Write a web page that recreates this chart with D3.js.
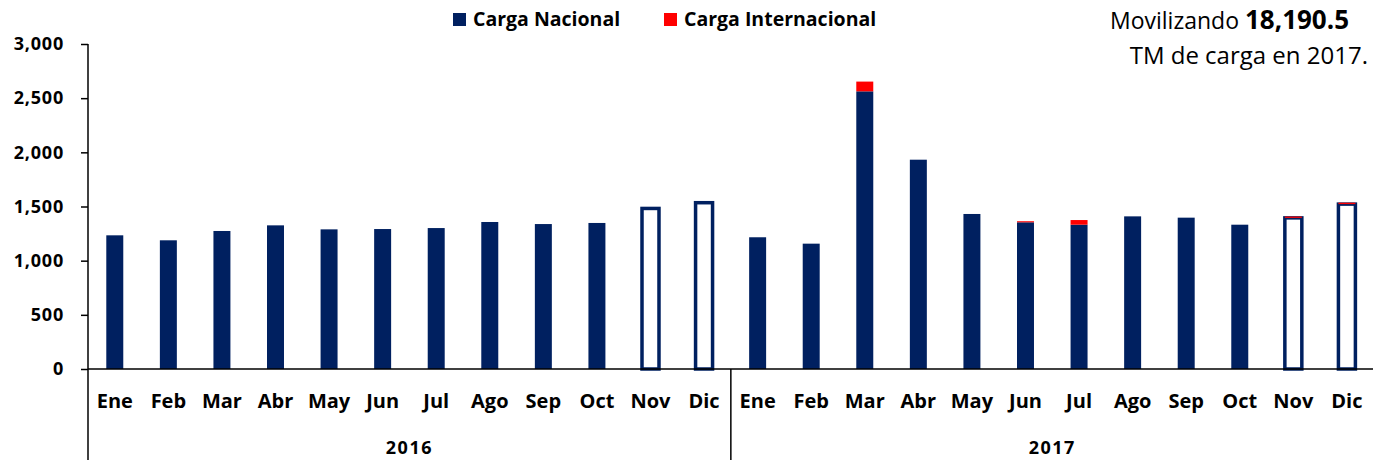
<!DOCTYPE html>
<html>
<head>
<meta charset="utf-8">
<script src="https://cdn.jsdelivr.net/npm/d3@7"></script>
<style>
  html, body { margin: 0; padding: 0; background: #fff; overflow: hidden; }
  svg { display: block; font-family: "Open Sans", Lato, sans-serif; }
</style>
</head>
<body>
<svg id="chart" width="1373" height="460"></svg>
<script>
// ---- data ----
const months = ["Ene","Feb","Mar","Abr","May","Jun","Jul","Ago","Sep","Oct","Nov","Dic"];
const years = ["2016","2017"];
const nacional2016 = [1234,1188,1274,1326,1289,1292,1301,1357,1338,1348,1482,1535];
const internacional2016 = [0,0,0,0,0,0,0,0,0,0,0,0];
const nacional2017 = [1216,1157,2563,1932,1431,1354,1332,1409,1397,1332,1395,1522];
const internacional2017 = [0,0,90,0,0,10,43,0,0,0,12,13];
const estimatedMonths = ["Nov","Dic"];
const yTicks = [0,500,1000,1500,2000,2500,3000];
const seriesNames = ["Carga Nacional","Carga Internacional"];
const titleLine1a = "Movilizando ";
const titleLine1b = "18,190.5";
const titleLine2 = "TM de carga en 2017.";

const NAVY = "#002060", RED = "#FF0000";

const rows = [];
years.forEach((yr, yi) => {
  const nac = yi === 0 ? nacional2016 : nacional2017;
  const intl = yi === 0 ? internacional2016 : internacional2017;
  months.forEach((m, i) => {
    rows.push({ key: yr + "-" + m, year: yr, month: m, nac: nac[i], intl: intl[i], est: estimatedMonths.includes(m) });
  });
});

const svg = d3.select("#chart");
const left = 88, right = 1373.7, y0 = 369, yTop = 44;

const x = d3.scaleBand().domain(rows.map(d => d.key)).range([left, right])
  .paddingInner(0.683).paddingOuter(0.3415);
const y = d3.scaleLinear().domain([0, 3000]).range([y0, yTop]);

// y axis
const yAxis = d3.axisLeft(y).tickValues(yTicks).tickSize(7).tickPadding(17)
  .tickFormat(d3.format(","));
const gy = svg.append("g").attr("transform", `translate(${left},0)`).call(yAxis);
gy.select(".domain").remove();
gy.selectAll(".tick line").attr("stroke", "#000").attr("stroke-width", 1.5);
gy.selectAll(".tick text").attr("font-size", 18).attr("font-weight", "bold").attr("fill", "#000")
  .attr("letter-spacing", 0.8).attr("font-family", "'Open Sans', sans-serif");

// bars
const g = svg.append("g");
rows.forEach(d => {
  const bx = x(d.key), bw = x.bandwidth();
  if (d.est) {
    g.append("rect").attr("x", bx).attr("width", bw)
      .attr("y", y(d.nac)).attr("height", y(0) - y(d.nac))
      .attr("fill", "#fff").attr("stroke", NAVY).attr("stroke-width", 3.5);
  } else {
    g.append("rect").attr("x", bx).attr("width", bw)
      .attr("y", y(d.nac)).attr("height", y(0) - y(d.nac))
      .attr("fill", NAVY);
  }
  if (d.intl > 0) {
    g.append("rect").attr("x", bx).attr("width", bw)
      .attr("y", y(d.nac + d.intl)).attr("height", y(d.nac) - y(d.nac + d.intl))
      .attr("fill", RED);
  }
});

// axis lines
svg.append("line").attr("x1", left).attr("x2", 1373).attr("y1", y0).attr("y2", y0)
  .attr("stroke", "#000").attr("stroke-width", 1.5);
svg.append("line").attr("x1", left).attr("x2", left).attr("y1", yTop).attr("y2", 460)
  .attr("stroke", "#000").attr("stroke-width", 1.5);
// year separators
years.forEach((yr, yi) => {
  if (yi === 0) return;
  const k = yr + "-" + months[0];
  const sx = x(k) - x.step() * x.paddingInner() / 2;
  svg.append("line").attr("x1", sx).attr("x2", sx).attr("y1", y0).attr("y2", 460)
    .attr("stroke", "#000").attr("stroke-width", 1.5);
});

// month labels
svg.append("g").selectAll("text").data(rows).join("text")
  .attr("x", d => x(d.key) + x.bandwidth() / 2)
  .attr("y", 408)
  .attr("text-anchor", "middle")
  .attr("font-size", 20).attr("font-weight", "bold").attr("fill", "#000")
  .text(d => d.month);

// year labels
years.forEach(yr => {
  const k0 = x(yr + "-" + months[0]), k1 = x(yr + "-" + months[months.length - 1]) + x.bandwidth();
  svg.append("text").attr("x", (k0 + k1) / 2).attr("y", 454)
    .attr("text-anchor", "middle").attr("font-size", 18).attr("font-weight", "bold")
    .attr("letter-spacing", 1.5).attr("fill", "#000").text(yr);
});

// legend
const legend = [{ name: seriesNames[0], color: NAVY, x: 453 }, { name: seriesNames[1], color: RED, x: 664 }];
legend.forEach(l => {
  svg.append("rect").attr("x", l.x).attr("y", 13).attr("width", 13).attr("height", 13).attr("fill", l.color);
  svg.append("text").attr("x", l.x + 20).attr("y", 26).attr("font-size", 19.5)
    .attr("font-weight", "bold").attr("fill", "#000").text(l.name);
});

// title (top right)
const t1 = svg.append("text").attr("x", 1110).attr("y", 29).attr("fill", "#000");
t1.append("tspan").attr("font-size", 23).text(titleLine1a);
t1.append("tspan").attr("font-size", 26).attr("font-weight", "bold").text(titleLine1b);
svg.append("text").attr("x", 1368).attr("y", 64).attr("text-anchor", "end")
  .attr("font-size", 24).attr("fill", "#000").text(titleLine2);
</script>
</body>
</html>
